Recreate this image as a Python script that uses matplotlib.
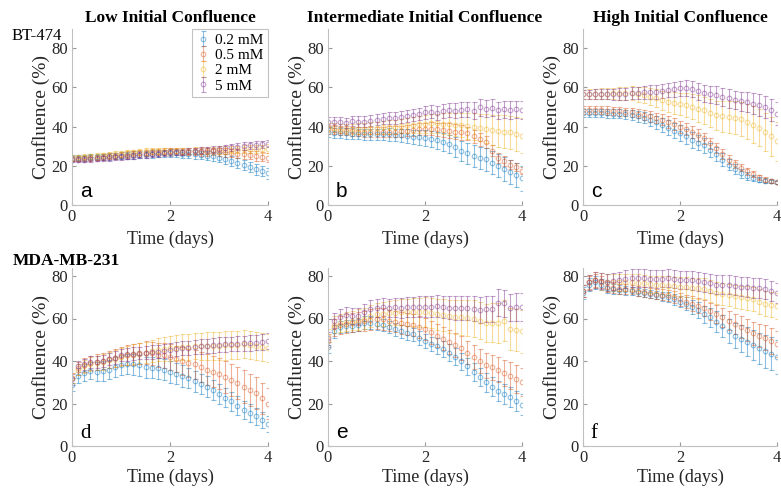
import numpy as np
import matplotlib
matplotlib.use("Agg")
import matplotlib.pyplot as plt

# Temps (jours), un point toutes les 3 h
t = np.arange(33) * 0.125

labels = ["0.2 mM", "0.5 mM", "2 mM", "5 mM"]
colors = ["#0072BD", "#D95319", "#EDB120", "#7E2F8E"]

# --- BT-474, faible confluence initiale (a)
a_02 = [24.0, 24.2, 24.0, 24.3, 24.5, 24.6, 24.8, 25.0, 25.2, 25.3, 25.5, 25.6, 25.8, 26.0, 26.2, 26.3, 26.4,
        26.3, 26.2, 26.0, 25.8, 25.5, 25.2, 24.8, 24.2, 23.4, 22.4, 21.4, 20.3, 19.2, 18.2, 17.3, 16.3]
a_05 = [23.5, 23.6, 23.8, 24.0, 24.2, 24.5, 24.8, 25.1, 25.4, 25.7, 26.0, 26.3, 26.6, 26.8, 27.0, 27.2, 27.3,
        27.3, 27.2, 27.2, 27.3, 27.2, 27.2, 27.3, 27.2, 26.8, 26.5, 26.2, 25.8, 25.5, 25.0, 24.6, 24.2]
a_2 = [24.2, 24.4, 24.6, 24.8, 25.0, 25.3, 25.6, 25.9, 26.2, 26.5, 26.8, 27.0, 27.3, 27.4, 27.5, 27.6, 27.6,
       27.5, 27.5, 27.5, 27.6, 27.7, 27.8, 27.9, 28.0, 28.1, 28.2, 28.3, 28.4, 28.5, 28.6, 28.7, 28.8]
a_5 = [23.0, 23.1, 23.0, 23.3, 23.5, 23.8, 24.0, 24.3, 24.5, 24.7, 25.0, 25.3, 25.6, 25.9, 26.2, 26.5, 26.8,
       27.0, 27.2, 27.4, 27.6, 27.8, 28.0, 28.3, 28.6, 29.0, 29.4, 29.8, 30.1, 30.4, 30.7, 31.0, 31.3]
a_02_err = [1.5, 1.5, 1.5, 1.5, 1.6, 1.6, 1.6, 1.7, 1.7, 1.7, 1.8, 1.8, 1.8, 1.9, 1.9, 2.0, 2.0,
            2.0, 2.1, 2.1, 2.2, 2.2, 2.3, 2.3, 2.4, 2.4, 2.5, 2.5, 2.6, 2.6, 2.7, 2.7, 2.8]
a_05_err = [1.3, 1.3, 1.3, 1.4, 1.4, 1.4, 1.5, 1.5, 1.5, 1.6, 1.6, 1.6, 1.7, 1.7, 1.7, 1.8, 1.8,
            1.8, 1.9, 1.9, 1.9, 2.0, 2.0, 2.0, 2.1, 2.1, 2.1, 2.2, 2.2, 2.2, 2.3, 2.3, 2.3]
a_2_err = [1.3, 1.3, 1.3, 1.3, 1.4, 1.4, 1.4, 1.4, 1.5, 1.5, 1.5, 1.5, 1.6, 1.6, 1.6, 1.6, 1.7,
           1.7, 1.7, 1.7, 1.8, 1.8, 1.8, 1.8, 1.9, 1.9, 1.9, 1.9, 2.0, 2.0, 2.0, 2.0, 2.1]
a_5_err = [1.3, 1.3, 1.3, 1.3, 1.3, 1.4, 1.4, 1.4, 1.4, 1.4, 1.5, 1.5, 1.5, 1.5, 1.5, 1.6, 1.6,
           1.6, 1.6, 1.6, 1.7, 1.7, 1.7, 1.7, 1.7, 1.8, 1.8, 1.8, 1.8, 1.8, 1.9, 1.9, 1.9]

# --- BT-474, confluence intermédiaire (b)
b_02 = [37.0, 36.8, 36.6, 36.5, 36.4, 36.3, 36.2, 36.2, 36.1, 36.0, 36.0, 35.8, 35.6, 35.2, 34.8, 34.5, 34.2,
        33.6, 33.0, 32.2, 31.2, 29.6, 27.7, 26.4, 25.0, 24.2, 23.3, 21.5, 20.0, 18.5, 17.0, 15.3, 13.6]
b_05 = [38.6, 38.4, 38.0, 37.8, 37.6, 37.4, 37.3, 37.2, 37.2, 37.3, 37.4, 37.5, 37.7, 38.0, 38.3, 38.6, 38.8,
        38.8, 38.6, 38.3, 38.0, 37.5, 37.0, 36.5, 35.0, 33.5, 32.0, 27.7, 24.0, 22.4, 20.6, 19.4, 17.6]
b_2 = [39.5, 39.3, 39.0, 38.8, 38.8, 38.9, 39.0, 39.2, 39.4, 39.6, 39.8, 40.0, 40.3, 40.6, 40.9, 41.2, 41.5,
       41.6, 41.6, 41.5, 41.3, 41.0, 40.7, 40.4, 40.0, 39.5, 39.0, 38.4, 37.8, 37.4, 37.0, 36.2, 35.3]
b_5 = [42.6, 42.6, 42.4, 42.0, 42.8, 42.6, 42.4, 43.0, 43.6, 44.0, 44.2, 44.5, 45.0, 45.5, 46.0, 46.5, 47.2,
       47.6, 47.0, 48.0, 48.5, 48.2, 48.6, 48.8, 48.2, 49.8, 49.2, 49.6, 48.4, 48.8, 48.6, 48.8, 48.4]
b_02_err = [2.5, 2.5, 2.6, 2.6, 2.7, 2.7, 2.8, 2.8, 2.9, 3.0, 3.1, 3.2, 3.3, 3.4, 3.5, 3.7, 3.9,
            4.1, 4.3, 4.5, 4.7, 4.9, 5.1, 5.3, 5.5, 5.6, 5.7, 5.8, 5.9, 6.0, 6.1, 6.2, 6.3]
b_05_err = [2.2, 2.2, 2.3, 2.3, 2.4, 2.4, 2.5, 2.5, 2.6, 2.6, 2.7, 2.7, 2.8, 2.9, 3.0, 3.1, 3.2,
            3.3, 3.4, 3.5, 3.6, 3.6, 3.6, 3.5, 3.4, 3.2, 3.0, 2.8, 2.6, 2.4, 2.2, 2.0, 1.8]
b_2_err = [2.2, 2.3, 2.4, 2.5, 2.6, 2.7, 2.8, 2.9, 3.0, 3.2, 3.4, 3.6, 3.8, 4.0, 4.2, 4.4, 4.6,
           4.8, 5.0, 5.3, 5.6, 5.9, 6.2, 6.5, 6.8, 7.1, 7.4, 7.7, 8.0, 8.3, 8.6, 8.8, 9.0]
b_5_err = [2.5, 2.5, 2.6, 2.6, 2.7, 2.7, 2.8, 2.8, 2.9, 2.9, 3.0, 3.0, 3.1, 3.1, 3.2, 3.2, 3.3,
           3.4, 3.5, 3.6, 3.7, 3.8, 3.9, 4.0, 4.1, 4.2, 4.3, 4.3, 4.4, 4.4, 4.5, 4.5, 4.5]

# --- BT-474, forte confluence initiale (c)
c_02 = [47.0, 47.0, 46.9, 46.8, 46.7, 46.6, 46.5, 46.3, 46.0, 45.3, 44.5, 43.5, 42.3, 41.0, 39.5, 38.0, 36.8,
        35.0, 33.2, 31.8, 30.4, 28.2, 26.0, 23.2, 20.6, 18.2, 16.2, 14.8, 13.6, 13.0, 12.4, 12.0, 11.6]
c_05 = [48.3, 48.4, 48.4, 48.3, 48.2, 48.0, 47.8, 47.5, 47.2, 46.6, 46.0, 45.2, 44.4, 43.5, 42.4, 41.2, 40.0,
        38.6, 37.2, 35.6, 34.0, 31.5, 29.0, 26.0, 23.0, 21.0, 19.0, 17.2, 15.6, 14.2, 13.0, 12.2, 11.6]
c_2 = [56.4, 56.5, 56.6, 56.7, 56.8, 56.9, 57.0, 57.0, 57.0, 56.5, 56.0, 55.2, 54.4, 53.4, 52.5, 52.0, 51.5,
       50.8, 50.2, 49.2, 48.3, 47.0, 45.7, 45.3, 45.0, 44.5, 44.0, 42.6, 41.0, 39.4, 37.0, 35.0, 32.5]
c_5 = [56.4, 56.4, 56.5, 56.5, 56.6, 56.6, 56.7, 56.8, 57.0, 57.2, 57.4, 57.6, 57.8, 58.2, 58.6, 59.0, 59.5,
       59.8, 59.2, 58.0, 57.0, 56.5, 56.0, 55.3, 54.4, 53.6, 53.0, 52.4, 51.7, 51.0, 50.0, 48.5, 46.6]
c_02_err = [2.0, 2.0, 2.0, 2.1, 2.1, 2.2, 2.3, 2.4, 2.5, 2.7, 2.9, 3.1, 3.3, 3.5, 3.7, 3.9, 4.0,
            4.0, 4.0, 3.9, 3.8, 3.6, 3.4, 3.1, 2.8, 2.5, 2.2, 1.9, 1.6, 1.4, 1.2, 1.0, 0.9]
c_05_err = [2.0, 2.0, 2.0, 2.0, 2.1, 2.1, 2.2, 2.2, 2.3, 2.4, 2.5, 2.6, 2.7, 2.8, 2.9, 3.0, 3.1,
            3.1, 3.1, 3.0, 2.9, 2.8, 2.7, 2.5, 2.3, 2.1, 1.9, 1.7, 1.5, 1.3, 1.1, 1.0, 0.9]
c_2_err = [2.5, 2.6, 2.7, 2.8, 2.9, 3.0, 3.2, 3.4, 3.6, 3.8, 4.0, 4.3, 4.6, 4.9, 5.2, 5.5, 5.8,
           6.1, 6.4, 6.7, 7.0, 7.3, 7.6, 7.9, 8.2, 8.5, 8.8, 9.1, 9.3, 9.5, 9.7, 9.9, 10.0]
c_5_err = [2.5, 2.5, 2.6, 2.6, 2.7, 2.8, 2.9, 3.0, 3.1, 3.2, 3.3, 3.4, 3.5, 3.6, 3.7, 3.8, 3.9,
           4.0, 4.1, 4.2, 4.3, 4.4, 4.5, 4.6, 4.7, 4.8, 4.9, 5.0, 5.2, 5.4, 5.6, 5.8, 6.0]

# --- MDA-MB-231, faible confluence initiale (d)
d_02 = [28.9, 33.0, 34.5, 35.5, 35.0, 35.3, 36.0, 37.0, 38.0, 38.5, 38.5, 38.0, 37.0, 36.8, 36.5, 36.0, 34.8,
        34.0, 33.0, 32.0, 30.5, 29.2, 28.0, 26.2, 24.5, 22.8, 21.0, 19.0, 17.0, 15.5, 14.0, 12.2, 10.5]
d_05 = [32.0, 36.5, 38.0, 39.0, 39.5, 40.0, 40.8, 41.5, 42.3, 42.8, 43.0, 43.5, 44.0, 43.6, 43.0, 42.6, 42.0,
        41.0, 40.0, 39.2, 38.5, 37.2, 36.0, 35.0, 34.0, 32.5, 31.0, 29.5, 28.0, 26.5, 25.0, 22.5, 20.0]
d_2 = [32.0, 36.0, 37.5, 38.5, 39.0, 39.5, 40.3, 41.0, 42.0, 42.6, 43.2, 43.6, 44.0, 44.6, 45.2, 45.6, 46.0,
       46.3, 46.6, 46.8, 47.0, 47.0, 47.1, 47.2, 47.2, 47.3, 47.4, 47.6, 48.0, 47.5, 47.0, 46.5, 46.0]
d_5 = [31.3, 37.6, 38.4, 39.5, 39.5, 40.0, 40.8, 41.6, 42.7, 43.2, 43.5, 43.8, 44.0, 44.2, 44.3, 44.8, 45.2,
       45.6, 46.0, 46.3, 46.7, 46.9, 47.1, 47.3, 47.6, 47.8, 48.0, 48.2, 48.4, 48.5, 48.7, 49.1, 49.5]
d_02_err = [3.0, 3.5, 4.0, 4.2, 4.4, 4.5, 4.6, 4.7, 4.8, 4.8, 4.9, 4.9, 5.0, 5.0, 5.0, 5.0, 5.0,
            5.0, 5.0, 4.9, 4.9, 4.8, 4.8, 4.7, 4.6, 4.5, 4.4, 4.3, 4.2, 4.1, 4.0, 3.9, 3.8]
d_05_err = [2.5, 3.0, 3.2, 3.4, 3.6, 3.8, 4.0, 4.2, 4.4, 4.6, 4.8, 5.0, 5.2, 5.4, 5.6, 5.8, 6.0,
            6.2, 6.4, 6.6, 6.8, 7.0, 7.2, 7.3, 7.4, 7.5, 7.6, 7.6, 7.6, 7.5, 7.4, 7.3, 7.2]
d_2_err = [2.5, 2.8, 3.0, 3.2, 3.4, 3.6, 3.8, 4.0, 4.2, 4.4, 4.6, 4.8, 5.0, 5.2, 5.4, 5.6, 5.8,
           5.9, 6.0, 6.1, 6.2, 6.3, 6.4, 6.5, 6.6, 6.6, 6.6, 6.6, 6.6, 6.6, 6.6, 6.6, 6.6]
d_5_err = [2.5, 2.6, 2.6, 2.7, 2.7, 2.8, 2.8, 2.9, 2.9, 3.0, 3.0, 3.0, 3.1, 3.1, 3.1, 3.2, 3.2,
           3.2, 3.3, 3.3, 3.3, 3.4, 3.4, 3.4, 3.5, 3.5, 3.5, 3.6, 3.6, 3.6, 3.7, 3.7, 3.7]

# --- MDA-MB-231, confluence intermédiaire (e)
e_02 = [46.5, 54.0, 56.0, 56.5, 56.5, 57.0, 58.0, 58.0, 57.5, 57.0, 56.0, 55.0, 54.0, 53.2, 52.5, 51.0, 49.5,
        48.0, 47.0, 45.5, 44.0, 42.0, 40.0, 37.5, 35.0, 32.5, 30.0, 28.0, 26.0, 24.5, 23.0, 21.2, 19.5]
e_05 = [49.5, 56.0, 57.0, 57.5, 58.0, 58.5, 59.0, 59.5, 60.0, 59.8, 59.0, 58.5, 58.0, 57.5, 57.0, 56.0, 55.0,
        53.5, 52.0, 50.5, 49.0, 47.5, 46.0, 44.0, 42.0, 40.0, 38.0, 37.0, 36.0, 34.5, 33.0, 31.5, 30.0]
e_2 = [52.0, 57.0, 58.0, 58.5, 59.0, 59.5, 60.0, 61.0, 62.0, 62.3, 62.6, 62.8, 63.0, 63.0, 63.0, 63.0, 63.0,
       62.5, 62.0, 61.5, 61.0, 60.8, 60.5, 60.2, 60.0, 59.0, 58.0, 58.0, 58.0, 59.0, 55.0, 54.5, 54.0]
e_5 = [50.6, 59.0, 60.8, 61.5, 61.0, 61.0, 63.0, 64.7, 65.0, 65.5, 65.0, 65.2, 65.0, 65.3, 65.5, 65.5, 65.5,
       65.6, 65.8, 65.4, 65.0, 65.0, 65.0, 64.8, 64.7, 64.0, 64.4, 64.6, 67.5, 67.2, 65.0, 65.5, 65.5]
e_02_err = [2.5, 3.0, 3.0, 3.0, 3.0, 3.0, 3.0, 3.0, 3.0, 3.0, 3.0, 3.0, 3.0, 3.1, 3.2, 3.3, 3.4,
            3.5, 3.6, 3.7, 3.8, 3.9, 4.0, 4.1, 4.2, 4.3, 4.4, 4.5, 4.6, 4.7, 4.8, 4.9, 5.0]
e_05_err = [3.0, 4.0, 4.2, 4.4, 4.5, 4.6, 4.7, 4.8, 4.9, 5.0, 5.0, 5.0, 5.1, 5.1, 5.2, 5.2, 5.3,
            5.3, 5.4, 5.4, 5.5, 5.5, 5.6, 5.6, 5.7, 5.8, 5.9, 6.0, 6.1, 6.2, 6.3, 6.4, 6.5]
e_2_err = [3.0, 4.0, 4.2, 4.4, 4.6, 4.8, 5.0, 5.2, 5.4, 5.6, 5.8, 6.0, 6.2, 6.4, 6.6, 6.8, 7.0,
           7.2, 7.4, 7.6, 7.8, 8.0, 8.2, 8.4, 8.6, 8.8, 9.0, 9.2, 9.4, 9.6, 9.8, 10.0, 10.2]
e_5_err = [3.0, 3.5, 3.6, 3.7, 3.8, 3.9, 4.0, 4.1, 4.2, 4.3, 4.4, 4.5, 4.6, 4.7, 4.8, 4.9, 5.0,
           5.1, 5.2, 5.3, 5.4, 5.5, 5.6, 5.7, 5.8, 5.9, 6.0, 6.1, 6.2, 6.3, 6.4, 6.5, 6.6]

# --- MDA-MB-231, forte confluence initiale (f)
f_02 = [72.0, 76.0, 77.0, 76.0, 74.5, 74.0, 73.5, 73.2, 73.0, 72.5, 72.0, 71.5, 71.0, 70.5, 70.0, 69.0, 68.0,
        67.0, 65.5, 64.0, 62.0, 60.5, 58.5, 56.5, 54.0, 52.0, 50.5, 49.0, 47.5, 46.0, 44.5, 43.5, 42.0]
f_05 = [73.0, 77.0, 78.0, 77.0, 75.0, 74.5, 74.0, 73.8, 73.5, 73.0, 72.5, 72.0, 71.5, 71.2, 71.0, 70.0, 69.0,
        68.0, 67.0, 66.0, 65.0, 63.5, 62.0, 60.5, 59.0, 57.5, 56.0, 54.5, 53.0, 52.0, 51.0, 49.5, 48.0]
f_2 = [73.0, 77.0, 78.0, 77.5, 77.0, 77.0, 77.0, 77.0, 77.0, 76.8, 76.5, 76.2, 76.0, 75.8, 75.5, 75.2, 75.0,
       74.8, 74.5, 74.2, 74.0, 73.0, 72.0, 71.5, 71.0, 70.5, 70.0, 69.5, 69.0, 68.0, 67.0, 66.5, 66.0]
f_5 = [73.0, 77.0, 78.0, 77.5, 77.0, 77.5, 78.0, 78.5, 79.0, 79.0, 79.0, 78.8, 78.5, 78.8, 79.0, 78.5, 78.0,
       78.0, 78.0, 77.5, 77.0, 76.5, 76.0, 76.0, 76.0, 75.5, 75.0, 74.8, 74.5, 74.2, 74.0, 73.0, 72.0]
f_02_err = [3.0, 3.0, 3.0, 2.8, 2.6, 2.4, 2.2, 2.0, 1.9, 1.8, 1.8, 1.9, 2.0, 2.2, 2.4, 2.6, 2.8,
            3.1, 3.4, 3.7, 4.0, 4.4, 4.8, 5.2, 5.6, 6.0, 6.4, 6.8, 7.1, 7.4, 7.6, 7.8, 8.0]
f_05_err = [3.0, 3.0, 3.0, 2.8, 2.6, 2.5, 2.4, 2.3, 2.2, 2.2, 2.2, 2.3, 2.4, 2.5, 2.6, 2.8, 3.0,
            3.2, 3.4, 3.6, 3.8, 4.0, 4.2, 4.4, 4.6, 4.8, 5.0, 5.2, 5.4, 5.6, 5.8, 6.0, 6.2]
f_2_err = [3.0, 3.5, 3.8, 4.0, 4.0, 4.0, 4.0, 4.0, 4.0, 4.0, 4.0, 4.0, 4.1, 4.2, 4.3, 4.4, 4.5,
           4.6, 4.7, 4.8, 4.9, 5.0, 5.1, 5.2, 5.3, 5.4, 5.5, 5.6, 5.7, 5.8, 5.9, 6.0, 6.1]
f_5_err = [3.0, 3.5, 3.7, 3.8, 3.9, 4.0, 4.0, 4.1, 4.1, 4.1, 4.1, 4.1, 4.2, 4.2, 4.2, 4.3, 4.3,
           4.3, 4.4, 4.4, 4.4, 4.5, 4.5, 4.5, 4.6, 4.6, 4.6, 4.7, 4.7, 4.7, 4.8, 4.8, 4.8]

panels = [
    ("a", [a_02, a_05, a_2, a_5], [a_02_err, a_05_err, a_2_err, a_5_err]),
    ("b", [b_02, b_05, b_2, b_5], [b_02_err, b_05_err, b_2_err, b_5_err]),
    ("c", [c_02, c_05, c_2, c_5], [c_02_err, c_05_err, c_2_err, c_5_err]),
    ("d", [d_02, d_05, d_2, d_5], [d_02_err, d_05_err, d_2_err, d_5_err]),
    ("e", [e_02, e_05, e_2, e_5], [e_02_err, e_05_err, e_2_err, e_5_err]),
    ("f", [f_02, f_05, f_2, f_5], [f_02_err, f_05_err, f_2_err, f_5_err]),
]
col_titles = ["Low Initial Confluence", "Intermediate Initial Confluence", "High Initial Confluence"]
letter_fonts = {"a": "Liberation Sans", "b": "Liberation Sans", "c": "Liberation Sans",
                "d": "Liberation Serif", "e": "Liberation Sans", "f": "Liberation Serif"}

plt.rcParams["font.family"] = ["Liberation Serif", "DejaVu Serif"]

W, H = 781, 492
fig = plt.figure(figsize=(W / 100, H / 100), dpi=100)

# positions des axes en pixels (gauche, droite)
lefts = [(72, 268), (328, 522), (583, 777)]
rows = [(205, 28.6, 90, 4), (446, 267.5, 84, 2)]  # (bas, haut, ymax, labelpad x)

for i, (letter, series, errs) in enumerate(panels):
    r, c = divmod(i, 3)
    x0, x1 = lefts[c]
    yb, yt, ymax, xpad = rows[r]
    ax = fig.add_axes([x0 / W, 1 - yb / H, (x1 - x0) / W, (yb - yt) / H])
    for vals, err, lab, col in zip(series, errs, labels, colors):
        ax.errorbar(t, vals, yerr=err, fmt="o", ms=3.3, mfc="none", mec=col, mew=0.8,
                    ecolor=col, elinewidth=0.8, capsize=1.8, capthick=0.8, alpha=0.45, label=lab)
    ax.set_xlim(0, 4)
    ax.set_ylim(0, ymax)
    ax.set_xticks([0, 2, 4])
    ax.set_yticks([0, 20, 40, 60, 80])
    for s in ["top", "right"]:
        ax.spines[s].set_visible(False)
    for s in ["left", "bottom"]:
        ax.spines[s].set_color("0.75")
        ax.spines[s].set_linewidth(0.8)
    ax.tick_params(direction="in", length=3, color="0.6", labelsize=12, labelcolor="0.15", pad=3)
    ax.set_xlabel("Time (days)", fontsize=13, color="0.15", labelpad=xpad)
    ax.set_ylabel("Confluence (%)", fontsize=14, color="0.15", labelpad=1)
    ax.text(0.04, 0.045, letter, transform=ax.transAxes, fontsize=15,
            family=letter_fonts[letter], color="black")
    if r == 0:
        ax.set_title(col_titles[c], fontsize=12.5, fontweight="bold", pad=5)
    if i == 0:
        leg = ax.legend(loc="upper right", fontsize=11, frameon=True, fancybox=False,
                        borderaxespad=0.0, handlelength=0.8, handletextpad=0.4,
                        labelspacing=0.1, borderpad=0.3)
        leg.get_frame().set_edgecolor("0.7")
        leg.get_frame().set_linewidth(0.8)

fig.text(12 / W, 1 - 40 / H, "BT-474", fontsize=12)
fig.text(13 / W, 1 - 265 / H, "MDA-MB-231", fontsize=12.5, fontweight="bold")

fig.savefig("out.png", dpi=100)
